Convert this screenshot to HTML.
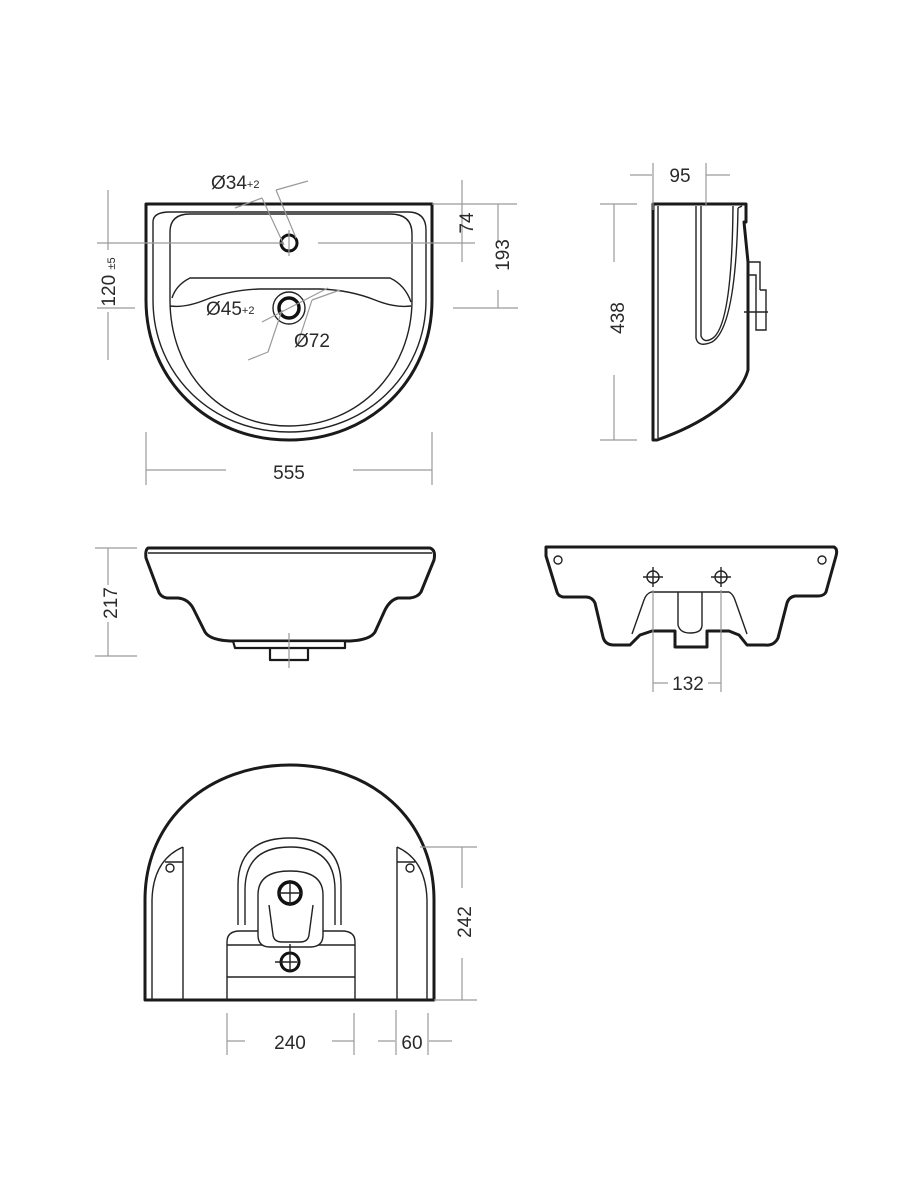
<!DOCTYPE html>
<html><head><meta charset="utf-8"><style>
html,body{margin:0;padding:0;background:#fff}
svg{display:block}
text{font-family:"Liberation Sans",sans-serif;fill:#2a2a2a;font-size:19px}
.d{stroke:#9a9a9a;stroke-width:1.2;fill:none}
.t{stroke:#1a1a1a;stroke-width:3;fill:#fff;stroke-linejoin:round}
.n{stroke:#222;stroke-width:1.4;fill:none}
</style></head><body>
<svg width="900" height="1200" viewBox="0 0 900 1200" xmlns="http://www.w3.org/2000/svg">
<!-- TOP VIEW -->
<path class="t" d="M146,204 H432 V300 C432,380 370,440 289,440 C208,440 146,380 146,300 Z"/>
<path class="n" d="M153,222 Q153,212 170,212 H408 Q426,212 426,230 V300 C426,375 366,432 289,432 C212,432 153,375 153,300 Z"/>
<path class="n" d="M170,300 V232 Q170,214 190,214 H390 Q412,214 412,234 V300 C412,370 360,426 289,426 C218,426 170,370 170,300"/>
<path class="n" d="M172,298 Q176,285 190,278 H390 Q405,285 411,302"/>
<path class="n" d="M170,306 Q185,308 205,300 Q230,290 260,289 H320 Q350,290 375,300 Q395,308 411,306"/>
<circle cx="289" cy="243" r="8" fill="#fff" stroke="#111" stroke-width="3"/>
<circle cx="289" cy="308" r="16" class="n"/>
<circle cx="289" cy="308" r="10" fill="#fff" stroke="#111" stroke-width="3.5"/>
<path class="d" d="M97,243 H284 M318,243 H475 M289,230 V256 M97,308 H135 M453,308 H518 M432,204 H517 M108,190 V250 M108,312 V360"/>
<path class="d" d="M462,180 V262 M498,204 V242 M498,290 V308"/>
<path class="d" d="M262,198 L284,245 M276,190 L296,238 M235,208 L262,198 M276,190 L308,181"/>
<path class="d" d="M262,322 L328,288 M268,352 L282,310 M298,343 L312,300 M268,352 L248,360 M312,300 L340,290"/>
<path class="d" d="M146,432 V485 M432,432 V485 M146,470 H226 M353,470 H432"/>
<text x="211" y="189">Ø34<tspan font-size="11" dy="-1">+2</tspan></text>
<text x="206" y="315">Ø45<tspan font-size="11" dy="-1">+2</tspan></text>
<text x="294" y="347">Ø72</text>
<text x="289" y="479" text-anchor="middle">555</text>
<text transform="translate(473,223) rotate(-90)" text-anchor="middle">74</text>
<text transform="translate(509,255) rotate(-90)" text-anchor="middle">193</text>
<text transform="translate(115,282) rotate(-90)" text-anchor="middle">120 <tspan font-size="11">±5</tspan></text>
<!-- SIDE VIEW -->
<path class="t" d="M653,204 H746 V222 H744 L748,262 V370 C740,400 700,425 657,440 H653 Z"/>
<path class="n" d="M658,206 V438"/>
<path class="n" d="M696,206 V338 Q698,348 712,342 Q736,328 738,208 M701,206 V336 Q704,344 713,338 Q732,324 733,206 M738,208 L742,206"/>
<path class="n" d="M748,262 H760 V290 M748,275 H756 V300 M760,290 H766 V330 H756 V300 M744,312 H768"/>
<path class="d" d="M653,163 V210 M706,163 V205 M630,175 H652 M706,175 H730 M600,204 H637 M600,440 H637 M614,204 V262 M614,375 V440"/>
<text x="680" y="182" text-anchor="middle">95</text>
<text transform="translate(624,318) rotate(-90)" text-anchor="middle">438</text>
<!-- FRONT VIEW -->
<path class="t" d="M148,548 H430 Q436,550 434,560 L421,592 Q418,597 410,598 H398 Q390,600 385,610 L375,632 Q370,640 350,641 H230 Q210,640 205,632 L193,608 Q188,599 178,598 H167 Q160,597 158,590 L146,558 Q145,550 148,548 Z"/>
<path class="n" d="M148,553 H432"/>
<path class="t" style="stroke-width:2.2" d="M233,641 H345 V648 H235 Z M270,648 H308 V660 H270 Z"/>
<path class="d" d="M289,633 V668 M95,548 H137 M95,656 H137 M108,548 V585 M108,622 V656"/>
<text transform="translate(117,603) rotate(-90)" text-anchor="middle">217</text>
<!-- BACK VIEW -->
<path class="t" d="M546,547 H834 Q838,549 836,556 L826,592 Q824,596 818,596 H795 Q789,597 787,603 L778,638 Q774,646 765,645 L747,645 L739,635 L729,631 H707 V647 H675 V631 H652 L640,635 L630,645 L614,645 Q605,645 603,637 L595,603 Q592,597 586,597 H563 Q558,596 557,592 L546,556 Z"/>
<path class="n" d="M651,592 H729 Q733,594 735,600 L747,634 M651,592 Q646,594 644,600 L632,634 M678,592 V625 Q680,633 690,633 Q702,633 702,625 V592"/>
<circle cx="558" cy="560" r="4" class="n"/><circle cx="822" cy="560" r="4" class="n"/>
<circle cx="653" cy="577" r="6" class="n"/><circle cx="721" cy="577" r="6" class="n"/>
<path class="n" d="M643,577 H663 M653,567 V587 M711,577 H731 M721,567 V587"/>
<path class="d" d="M653,590 V692 M721,590 V692 M653,683 H668 M708,683 H721"/>
<text x="688" y="690" text-anchor="middle">132</text>
<!-- BOTTOM VIEW -->
<path class="t" d="M145,1000 V900 C145,818 210,765 290,765 C370,765 434,818 434,900 V1000 Z"/>
<path class="n" d="M152,1000 V900 Q153,860 183,847 M183,847 V1000 M165,862 H183 M427,1000 V900 Q426,860 397,847 M397,847 V1000 M397,862 H415"/>
<circle cx="170" cy="868" r="4" class="n"/><circle cx="410" cy="868" r="4" class="n"/>
<path class="n" d="M238,925 V885 Q238,838 290,838 Q341,838 341,885 V925 M245,925 V890 Q245,847 290,847 Q335,847 335,890 V925"/>
<path class="n" d="M227,1000 V942 Q227,931 240,931 H342 Q355,931 355,942 V1000 M227,945 H355 M227,977 H355"/>
<path fill="#fff" stroke="#222" stroke-width="1.4" d="M258,935 V895 Q258,871 290,871 Q323,871 323,895 V935 Q323,947 310,947 H270 Q258,947 258,935 Z"/>
<path class="n" d="M269,905 L273,935 Q274,942 282,942 H300 Q308,942 309,935 L313,905"/>
<circle cx="290" cy="893" r="11" fill="#fff" stroke="#111" stroke-width="3.5"/>
<path class="n" d="M290,880 V906 M278,893 H302"/>
<circle cx="290" cy="962" r="9" fill="#fff" stroke="#111" stroke-width="3"/>
<path class="n" d="M290,944 V972 M275,962 H297"/>
<path class="d" d="M420,847 H477 M434,1000 H477 M462,847 V888 M462,958 V1000"/>
<path class="d" d="M227,1013 V1055 M354,1013 V1055 M227,1041 H245 M332,1041 H354 M396,1010 V1055 M428,1013 V1055 M378,1041 H395 M429,1041 H452"/>
<text transform="translate(471,922) rotate(-90)" text-anchor="middle">242</text>
<text x="290" y="1049" text-anchor="middle">240</text>
<text x="412" y="1049" text-anchor="middle">60</text>
</svg>
</body></html>
